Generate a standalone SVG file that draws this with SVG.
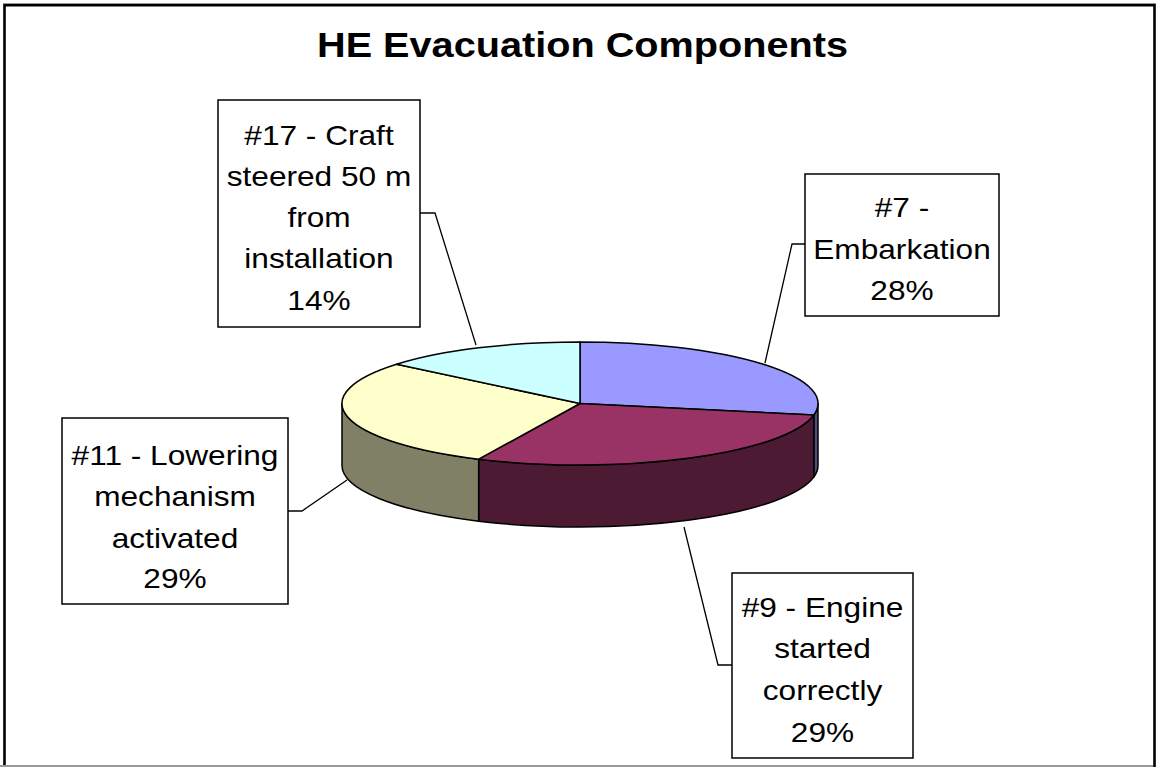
<svg xmlns="http://www.w3.org/2000/svg" width="1156" height="767" viewBox="0 0 1156 767">
<style>
.slice{stroke:#000;stroke-width:1.5;stroke-linejoin:round}
.box{fill:#fff;stroke:#000;stroke-width:1.5}
.lead{fill:none;stroke:#000;stroke-width:1.3}
.lbl{font-family:"Liberation Sans",Arial,sans-serif;font-size:28px;fill:#000;text-anchor:middle}
.title{font-family:"Liberation Sans",Arial,sans-serif;font-size:34.5px;font-weight:bold;fill:#000;text-anchor:middle}
</style>
<rect x="0" y="0" width="1156" height="767" fill="#fff"/>
<g id="frame">
<line x1="3" y1="3.5" x2="1156" y2="3.5" stroke="#999" stroke-width="1"/>
<path d="M4.5 767 V5.2 H1154.5 V767" fill="none" stroke="#000" stroke-width="2.6"/>
<line x1="0" y1="766" x2="1153" y2="766" stroke="#999" stroke-width="2"/>
</g>
<g id="title">
<text class="title" transform="translate(582.5 0) scale(1.15 1)" x="0" y="57">HE Evacuation Components</text>
</g>
<g id="pie">
<path class="slice" fill="#4D4D80" d="M818,403.5 A238,61.5 0 0 1 813.79,415.02 L813.79,477.02 A238,61.5 0 0 0 818,465.5 Z"/>
<path class="slice" fill="#4D1A33" d="M813.79,415.02 A238,61.5 0 0 1 478.66,459.15 L478.66,521.15 A238,61.5 0 0 0 813.79,477.02 Z"/>
<path class="slice" fill="#808066" d="M478.66,459.15 A238,61.5 0 0 1 342,403.5 L342,465.5 A238,61.5 0 0 0 478.66,521.15 Z"/>
<path class="slice" fill="#9999FF" d="M580,403.5 L580,342 A238,61.5 0 0 1 813.79,415.02 Z"/>
<path class="slice" fill="#993366" d="M580,403.5 L813.79,415.02 A238,61.5 0 0 1 478.66,459.15 Z"/>
<path class="slice" fill="#FFFFCC" d="M580,403.5 L478.66,459.15 A238,61.5 0 0 1 396.62,364.3 Z"/>
<path class="slice" fill="#CCFFFF" d="M580,403.5 L396.62,364.3 A238,61.5 0 0 1 580,342 Z"/>
</g>
<g id="connectors">
<polyline class="lead" points="420,213 435,213 476,345"/>
<polyline class="lead" points="805,244 792,244 765,363"/>
<polyline class="lead" points="288,511 302,511 347,480"/>
<polyline class="lead" points="732,665 718,665 684,527"/>
</g>
<g id="label-craft">
<rect class="box" x="218" y="100" width="202" height="227"/>
<text class="lbl" transform="translate(319 0) scale(1.13 1)"><tspan x="0" y="145">#17 - Craft</tspan><tspan x="0" y="186">steered 50 m</tspan><tspan x="0" y="227">from</tspan><tspan x="0" y="268">installation</tspan><tspan x="0" y="310">14%</tspan></text>
</g>
<g id="label-embarkation">
<rect class="box" x="805" y="174" width="194" height="142"/>
<text class="lbl" transform="translate(902 0) scale(1.13 1)"><tspan x="0" y="217">#7 -</tspan><tspan x="0" y="259">Embarkation</tspan><tspan x="0" y="300">28%</tspan></text>
</g>
<g id="label-lowering">
<rect class="box" x="62" y="418" width="226" height="186"/>
<text class="lbl" transform="translate(175 0) scale(1.13 1)"><tspan x="0" y="465">#11 - Lowering</tspan><tspan x="0" y="506.5">mechanism</tspan><tspan x="0" y="548">activated</tspan><tspan x="0" y="588.5">29%</tspan></text>
</g>
<g id="label-engine">
<rect class="box" x="732" y="573" width="181" height="185"/>
<text class="lbl" transform="translate(822.5 0) scale(1.13 1)"><tspan x="0" y="617">#9 - Engine</tspan><tspan x="0" y="658">started</tspan><tspan x="0" y="700">correctly</tspan><tspan x="0" y="742">29%</tspan></text>
</g>
</svg>
